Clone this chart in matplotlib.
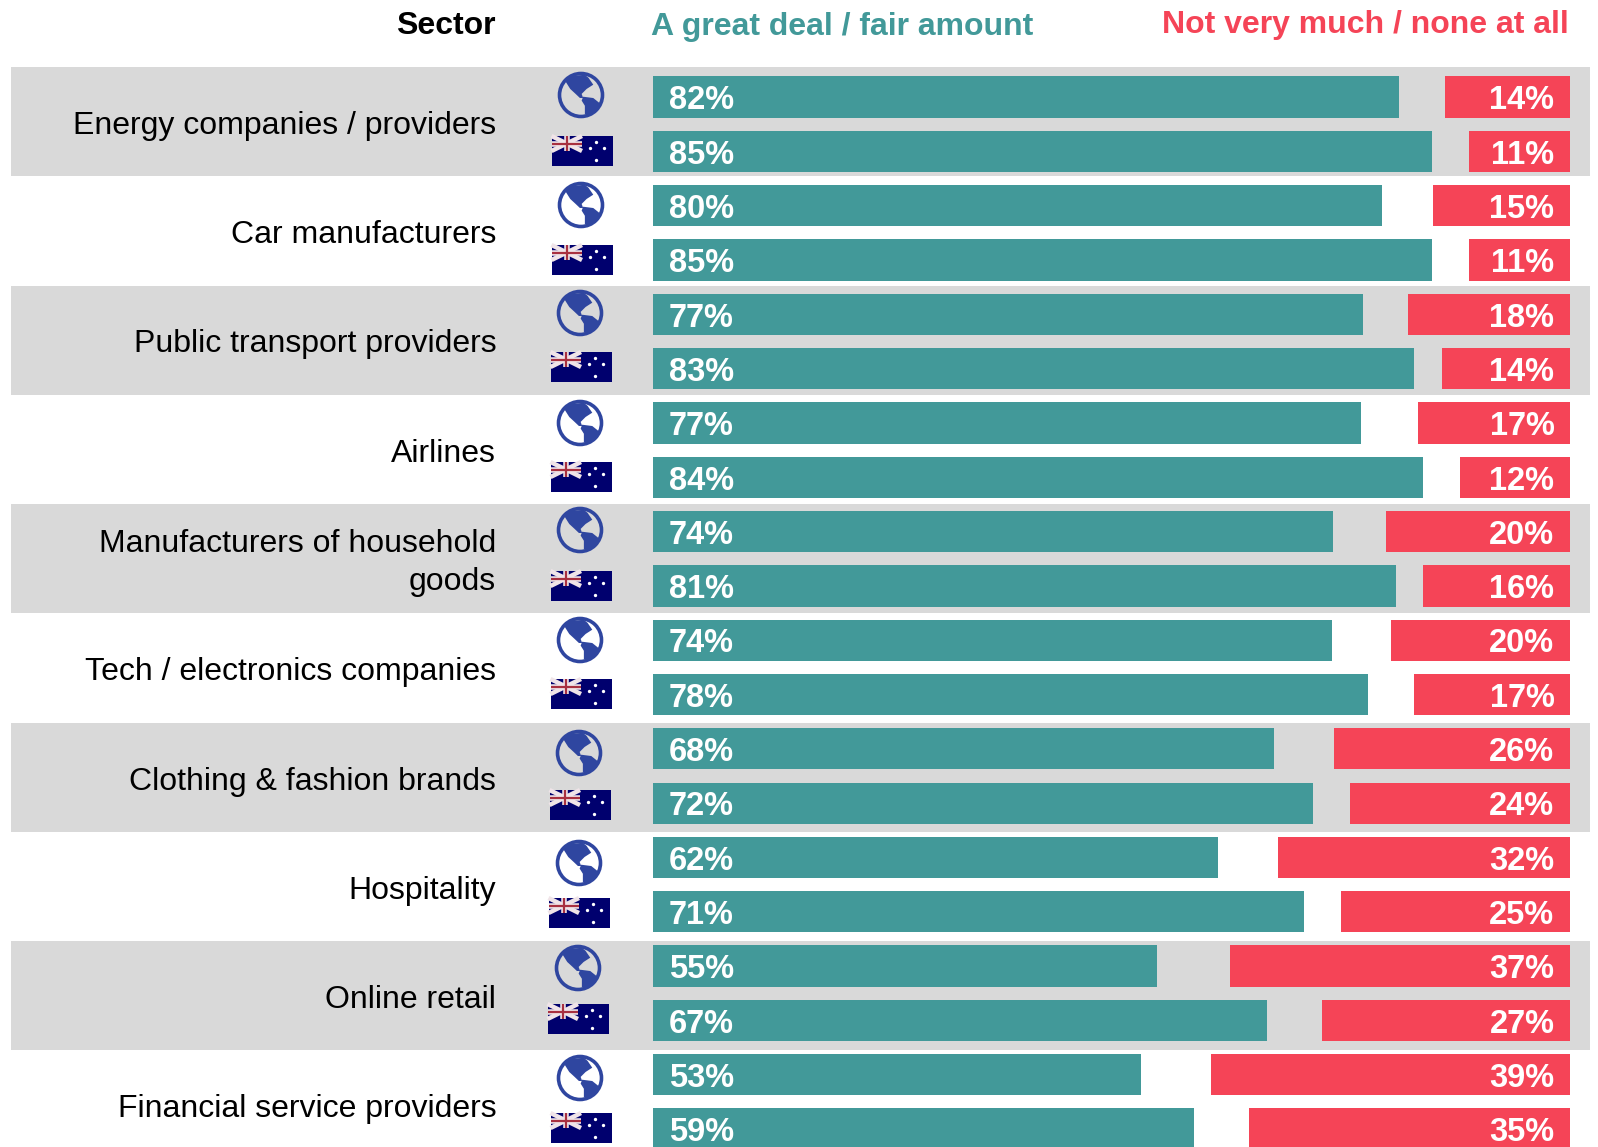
import matplotlib
matplotlib.use('Agg')
import matplotlib.pyplot as plt
from matplotlib.patches import Circle, Polygon, Rectangle

TEAL = '#429999'
RED = '#F54457'
BAND = '#D9D9D9'
NAVY = '#00006E'
GLOBE = '#2F46A0'

sectors = ['Energy companies / providers', 'Car manufacturers', 'Public transport providers',
           'Airlines', 'Manufacturers of household\ngoods', 'Tech / electronics companies',
           'Clothing & fashion brands', 'Hospitality', 'Online retail', 'Financial service providers']
# rows go global, australia, global, australia ...
agree_labels = [82, 85, 80, 85, 77, 83, 77, 84, 74, 81, 74, 78, 68, 72, 62, 71, 55, 67, 53, 59]
disagree_labels = [14, 11, 15, 11, 18, 14, 17, 12, 20, 16, 20, 17, 26, 24, 32, 25, 37, 27, 39, 35]
# bar lengths as drawn, slightly off the rounded labels
agree_bars = [81.4, 85.0, 79.5, 85.0, 77.4, 83.0, 77.2, 84.0, 74.1, 81.0,
              74.0, 78.0, 67.7, 72.0, 61.6, 71.0, 55.0, 67.0, 53.2, 59.0]
disagree_bars = [13.6, 11.0, 14.9, 11.0, 17.7, 14.0, 16.6, 12.0, 20.1, 16.0,
                 19.5, 17.0, 25.7, 24.0, 31.8, 25.0, 37.1, 27.0, 39.1, 35.0]

# icon centres in pixels
globe_x = [581, 581, 580, 580, 580, 580, 579, 579, 578, 580]
globe_y = [95, 205, 313, 423, 530, 640, 753, 863, 968, 1078]
flag_x = [582, 582, 581, 581, 581, 581, 580, 579, 578, 581]
flag_y = [151, 260, 367, 477, 586, 694, 805, 913, 1019, 1128]

north_america = [(-.74, -.66), (-.43, -.89), (.18, -.94), (.35, -.8), (.57, -.48), (.26, -.28), (.03, -.05),
                 (.1, .14), (-.05, .14), (-.25, -.05), (-.5, -.28)]
south_america = [(.1, .08), (.57, .14), (.92, .42), (.65, .72), (.34, .95), (.18, .88), (.18, .5), (.03, .26)]
stars = [(.23, -.29), (.36, -.11), (.23, .3), (.126, -.09)]

fig = plt.figure(figsize=(15.98, 11.47), dpi=100)
ax = fig.add_axes([0, 0, 1, 1])
ax.set_xlim(-71.2, 103.05)
ax.set_ylim(19.33, -1.785)
ax.axis('off')

plt.rcParams['font.family'] = 'Liberation Sans'

for k in range(5):
    top = -0.55 + 4.022 * k
    ax.axhspan(top, top + 2.01, xmin=11 / 1598, xmax=1590 / 1598, color=BAND, lw=0, zorder=0)

rows = range(len(agree_bars))
ax.barh(rows, agree_bars, height=0.76, left=0, color=TEAL, zorder=2)
right_end = 100.0
ax.barh(rows, disagree_bars, height=0.76, left=[right_end - v for v in disagree_bars], color=RED, zorder=2)

for i in rows:
    ax.text(1.75, i + 0.07, f'{agree_labels[i]}%', color='white', fontsize=23.5, fontweight='bold',
            va='center', ha='left', zorder=3)
    ax.text(right_end - 1.7, i + 0.07, f'{disagree_labels[i]}%', color='white', fontsize=23.5, fontweight='bold',
            va='center', ha='right', zorder=3)

for k, name in enumerate(sectors):
    ax.text(-17.1, 2.012 * k + 0.53, name, fontsize=23, ha='right', va='center', linespacing=1.33, zorder=3)

# header and icons, in pixel coordinates
ov = fig.add_axes([0, 0, 1, 1])
ov.set_xlim(0, 1598)
ov.set_ylim(1147, 0)
ov.axis('off')
ov.patch.set_alpha(0)

ov.text(496, 26, 'Sector', fontsize=23, fontweight='bold', ha='right', va='center')
ov.text(651, 27, 'A great deal / fair amount', fontsize=23, fontweight='bold',
        color=TEAL, ha='left', va='center')
ov.text(1569, 25, 'Not very much / none at all', fontsize=23, fontweight='bold',
        color=RED, ha='right', va='center')


def draw_globe(x, y, r=21.5):
    ov.add_patch(Circle((x, y), r, fc='none', ec=GLOBE, lw=2.6))
    for shape in (north_america, south_america):
        ov.add_patch(Polygon([(x + a * r, y + b * r) for a, b in shape], fc=GLOBE, ec='none'))


def draw_flag(x, y, w=61, h=30):
    x0, y0 = x - w / 2, y - h / 2
    ov.add_patch(Rectangle((x0, y0), w, h, fc=NAVY, ec='none'))
    jw, jh = w / 2, h / 2
    ov.plot([x0, x0 + jw], [y0, y0 + jh], color='#F0E4E8', lw=3.2, solid_capstyle='butt')
    ov.plot([x0, x0 + jw], [y0 + jh, y0], color='#F0E4E8', lw=3.2, solid_capstyle='butt')
    ov.plot([x0 + jw / 2] * 2, [y0, y0 + jh], color='#F0E4E8', lw=4, solid_capstyle='butt')
    ov.plot([x0, x0 + jw], [y0 + jh / 2] * 2, color='#F0E4E8', lw=4, solid_capstyle='butt')
    ov.plot([x0 + jw / 2] * 2, [y0, y0 + jh], color='#A83040', lw=1.6, solid_capstyle='butt')
    ov.plot([x0, x0 + jw], [y0 + jh / 2] * 2, color='#A83040', lw=1.6, solid_capstyle='butt')
    for a, b in stars:
        ov.plot(x + a * w, y + b * h, 'o', color='white', ms=2.4, mew=0)


for gx, gy in zip(globe_x, globe_y):
    draw_globe(gx, gy)
for fx, fy in zip(flag_x, flag_y):
    draw_flag(fx, fy)

plt.savefig('out.png', dpi=100)
